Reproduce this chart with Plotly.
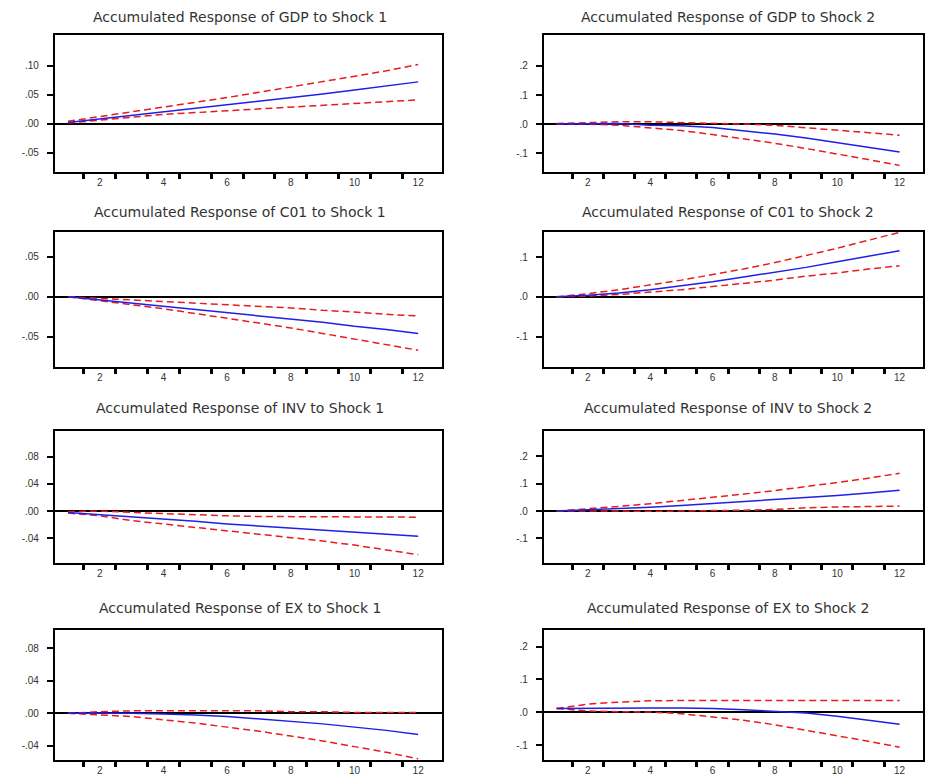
import plotly.graph_objects as go

periods = list(range(1, 13))

titles = [
    "Accumulated Response of GDP to Shock 1",
    "Accumulated Response of GDP to Shock 2",
    "Accumulated Response of C01 to Shock 1",
    "Accumulated Response of C01 to Shock 2",
    "Accumulated Response of INV to Shock 1",
    "Accumulated Response of INV to Shock 2",
    "Accumulated Response of EX to Shock 1",
    "Accumulated Response of EX to Shock 2",
]

# GDP to shock 1
gdp_s1 = [0.002, 0.008, 0.014, 0.020, 0.026, 0.032, 0.039, 0.045, 0.051, 0.058, 0.065, 0.072]
gdp_s1_hi = [0.004, 0.012, 0.020, 0.028, 0.036, 0.045, 0.054, 0.063, 0.072, 0.081, 0.091, 0.102]
gdp_s1_lo = [0.001, 0.006, 0.011, 0.016, 0.019, 0.022, 0.025, 0.028, 0.031, 0.035, 0.038, 0.041]
# GDP to shock 2
gdp_s2 = [0.0, 0.002, 0.002, -0.004, -0.006, -0.012, -0.022, -0.034, -0.048, -0.064, -0.080, -0.096]
gdp_s2_hi = [0.002, 0.006, 0.008, 0.008, 0.006, 0.004, 0.0, -0.004, -0.012, -0.020, -0.030, -0.038]
gdp_s2_lo = [0.0, 0.0, -0.004, -0.012, -0.022, -0.036, -0.050, -0.066, -0.084, -0.102, -0.122, -0.142]
# C01 to shock 1
c01_s1 = [0.0, -0.004, -0.008, -0.012, -0.016, -0.020, -0.024, -0.028, -0.032, -0.037, -0.041, -0.046]
c01_s1_hi = [0.0, -0.002, -0.004, -0.006, -0.008, -0.010, -0.012, -0.014, -0.017, -0.019, -0.022, -0.024]
c01_s1_lo = [0.0, -0.005, -0.010, -0.015, -0.021, -0.027, -0.033, -0.039, -0.046, -0.053, -0.060, -0.067]
# C01 to shock 2
c01_s2 = [0.0, 0.004, 0.010, 0.018, 0.028, 0.038, 0.050, 0.062, 0.074, 0.088, 0.102, 0.116]
c01_s2_hi = [0.0, 0.008, 0.018, 0.030, 0.042, 0.056, 0.070, 0.086, 0.104, 0.122, 0.142, 0.162]
c01_s2_lo = [0.0, 0.002, 0.006, 0.012, 0.018, 0.026, 0.034, 0.042, 0.052, 0.060, 0.070, 0.078]
# INV to shock 1
inv_s1 = [-0.002, -0.005, -0.009, -0.012, -0.015, -0.019, -0.022, -0.025, -0.028, -0.031, -0.034, -0.037]
inv_s1_hi = [-0.001, 0.0, -0.002, -0.004, -0.005, -0.007, -0.008, -0.008, -0.009, -0.009, -0.009, -0.009]
inv_s1_lo = [-0.003, -0.007, -0.014, -0.019, -0.023, -0.028, -0.033, -0.039, -0.044, -0.050, -0.057, -0.064]
# INV to shock 2
inv_s2 = [0.0, 0.004, 0.008, 0.014, 0.020, 0.027, 0.034, 0.041, 0.049, 0.057, 0.066, 0.076]
inv_s2_hi = [0.0, 0.008, 0.017, 0.027, 0.038, 0.050, 0.062, 0.075, 0.089, 0.104, 0.120, 0.138]
inv_s2_lo = [0.0, 0.001, 0.0, -0.001, 0.0, 0.002, 0.003, 0.006, 0.012, 0.015, 0.017, 0.018]
# EX to shock 1
ex_s1 = [0.0, 0.0, 0.0, -0.001, -0.002, -0.004, -0.007, -0.010, -0.013, -0.017, -0.021, -0.026]
ex_s1_hi = [0.0, 0.002, 0.003, 0.003, 0.003, 0.003, 0.003, 0.002, 0.002, 0.001, 0.001, 0.001]
ex_s1_lo = [0.0, -0.002, -0.004, -0.008, -0.012, -0.017, -0.022, -0.028, -0.034, -0.041, -0.048, -0.056]
# EX to shock 2
ex_s2 = [0.012, 0.013, 0.013, 0.013, 0.013, 0.012, 0.008, 0.003, -0.002, -0.012, -0.024, -0.036]
ex_s2_hi = [0.012, 0.025, 0.031, 0.035, 0.036, 0.036, 0.036, 0.036, 0.036, 0.036, 0.036, 0.036]
ex_s2_lo = [0.012, 0.004, 0.002, 0.001, -0.004, -0.013, -0.024, -0.038, -0.054, -0.070, -0.088, -0.106]

series = [
    (gdp_s1, gdp_s1_hi, gdp_s1_lo),
    (gdp_s2, gdp_s2_hi, gdp_s2_lo),
    (c01_s1, c01_s1_hi, c01_s1_lo),
    (c01_s2, c01_s2_hi, c01_s2_lo),
    (inv_s1, inv_s1_hi, inv_s1_lo),
    (inv_s2, inv_s2_hi, inv_s2_lo),
    (ex_s1, ex_s1_hi, ex_s1_lo),
    (ex_s2, ex_s2_hi, ex_s2_lo),
]

ytick_vals = [
    [0.10, 0.05, 0.0, -0.05],
    [0.2, 0.1, 0.0, -0.1],
    [0.05, 0.0, -0.05],
    [0.1, 0.0, -0.1],
    [0.08, 0.04, 0.0, -0.04],
    [0.2, 0.1, 0.0, -0.1],
    [0.08, 0.04, 0.0, -0.04],
    [0.2, 0.1, 0.0, -0.1],
]
ytick_text = [
    [".10", ".05", ".00", "-.05"],
    [".2", ".1", ".0", "-.1"],
    [".05", ".00", "-.05"],
    [".1", ".0", "-.1"],
    [".08", ".04", ".00", "-.04"],
    [".2", ".1", ".0", "-.1"],
    [".08", ".04", ".00", "-.04"],
    [".2", ".1", ".0", "-.1"],
]
y_ranges = [
    [-0.084, 0.153],
    [-0.166, 0.307],
    [-0.0875, 0.081],
    [-0.175, 0.1625],
    [-0.076, 0.117],
    [-0.189, 0.291],
    [-0.0575, 0.103],
    [-0.145, 0.2515],
]
xtick_vals = [2, 4, 6, 8, 10, 12]
xtick_text = ["2", "4", "6", "8", "10", "12"]

# page body has an 8px margin; figure sized to fit the window
OFF = 8
W, H = 933 - 2 * OFF, 784 - 2 * OFF
col_px = [(55, 443), (545, 927)]
row_px = [(35, 173), (233, 368), (433, 565), (632, 763)]
title_y_px = [17, 213, 410, 610]
title_x_px = [241, 730]

fig = go.Figure()
BLUE = "#1f1fe8"
RED = "#e81c1c"

for i, (mid, hi, lo) in enumerate(series):
    r, c = divmod(i, 2)
    n = i + 1
    xa = "x" if n == 1 else f"x{n}"
    ya = "y" if n == 1 else f"y{n}"
    for vals, color, dash in [(hi, RED, "7px,4px"), (lo, RED, "7px,4px"), (mid, BLUE, "solid")]:
        fig.add_trace(go.Scatter(x=periods, y=vals, mode="lines", xaxis=xa, yaxis=ya,
                                 line=dict(color=color, width=1.5, dash=dash),
                                 showlegend=False, hoverinfo="skip"))
    x0, x1 = col_px[c]
    t, b = row_px[r]
    x0, x1, t, b = x0 - OFF, min(x1 - OFF, W), t - OFF, b - OFF
    key = "" if n == 1 else str(n)
    fig.layout["xaxis" + key] = dict(
        domain=[x0 / W, x1 / W], anchor=ya, range=[0.59, 12.75],
        tickmode="array", tickvals=xtick_vals, ticktext=xtick_text, ticks="",
        showgrid=False, zeroline=False, showline=True, linecolor="black", linewidth=2,
        mirror=True, tickfont=dict(size=10, color="#333", family="Arial"),
        minor=dict(tickmode="array", tickvals=[k + 0.5 for k in range(1, 12)],
                   ticks="outside", ticklen=5, tickwidth=2.5, tickcolor="black", showgrid=False),
    )
    fig.layout["yaxis" + key] = dict(
        domain=[1 - b / H, 1 - t / H], anchor=xa, range=y_ranges[i],
        tickmode="array", tickvals=ytick_vals[i], ticktext=ytick_text[i],
        ticks="outside", ticklen=6, tickwidth=1.5, tickcolor="black",
        ticklabelstandoff=6,
        showgrid=False, zeroline=True, zerolinecolor="black", zerolinewidth=1.5,
        showline=True, linecolor="black", linewidth=2, mirror=True,
        tickfont=dict(size=10, color="#333", family="Arial"),
    )
    fig.add_annotation(text=titles[i], xref="paper", yref="paper",
                       x=(title_x_px[c] - OFF) / W, y=1 - (title_y_px[r] - OFF) / H,
                       xanchor="center", yanchor="middle", showarrow=False,
                       font=dict(size=14, color="#333", family="DejaVu Sans"))

fig.update_layout(width=W, height=H, margin=dict(l=0, r=0, t=0, b=0),
                  paper_bgcolor="white", plot_bgcolor="white")
fig.write_html("out.html")
